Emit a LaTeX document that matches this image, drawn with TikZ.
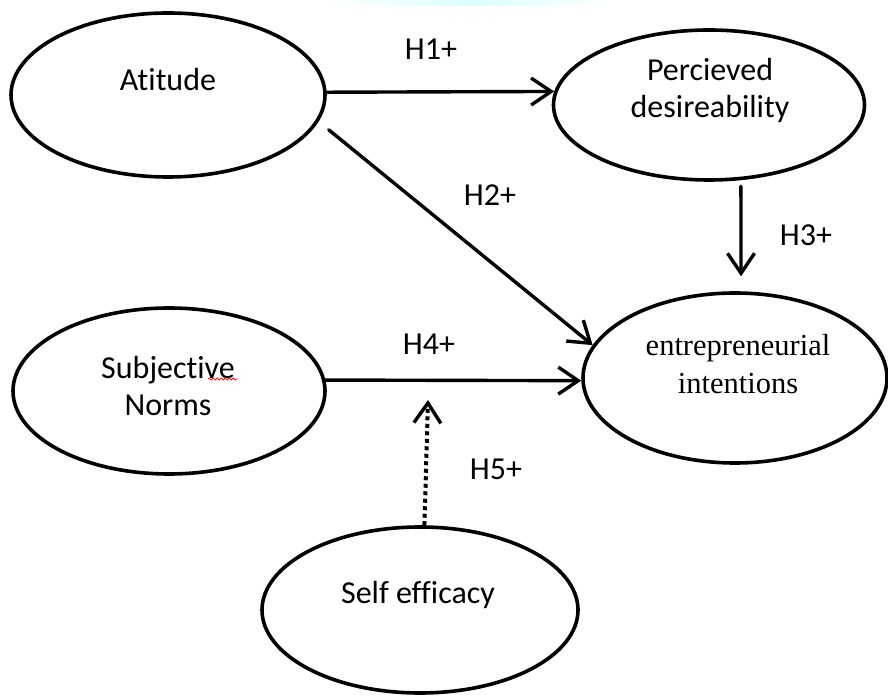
\documentclass[tikz,border=0pt]{standalone}
\usepackage{fontspec}
\setmainfont{Carlito}[Ligatures=NoCommon]
\newfontfamily\timesfam{Liberation Serif}
\usetikzlibrary{arrows.meta,shapes.geometric,decorations.pathmorphing}
\begin{document}
\begin{tikzpicture}[x=1pt,y=1pt,
  oval/.style={draw, ellipse, line width=3.6pt, inner sep=0pt},
  txt/.style={inner sep=0pt, align=center, font=\fontsize{32}{37}\selectfont},
  sertxt/.style={inner sep=0pt, align=center, font=\timesfam\fontsize{30.5}{38}\selectfont},
  lbl/.style={inner sep=0pt, font=\fontsize{32}{37}\selectfont},
  arr/.style={line width=3.4pt, line cap=round, -{Straight Barb[length=20pt,width=27pt]}},
  dotarr/.style={line width=4pt, dash pattern=on 4pt off 3.5pt, -{Straight Barb[length=20pt,width=27pt,line width=3.4pt]}},
]
\useasboundingbox (0,0) rectangle (888,696);
% faint band at the top
\fill[left color=white, right color=white, middle color=cyan!14] (327,690) rectangle (615,696);

% ellipses
\node[oval, minimum width=314, minimum height=164] (att) at (168,601) {};
\node[oval, minimum width=311, minimum height=150] (pd)  at (709,591) {};
\node[oval, minimum width=304, minimum height=170] (ei)  at (735,318) {};
\node[oval, minimum width=312, minimum height=166] (sn)  at (169,305) {};
\node[oval, minimum width=316, minimum height=166] (se)  at (420,86) {};

% texts
\node[txt] (tatt) at (168,616) {Atitude};
\node[txt] (tpd)  at (710,606) {Percieved\\desireability};
\node[sertxt] (tei) at (738,332) {entrepreneurial\\intentions};
\node[txt] (tsn)  at (168,310) {Subjective\\Norms};
\node[txt] (tse)  at (418,101) {Self efficacy};

% red spelling squiggle
\draw[red, line width=0.7pt, decorate, decoration={snake, amplitude=1.2pt, segment length=4pt}]
  (208,317) -- (238,317);

% connectors
\draw[arr] (att.1) -- (pd.175);
\draw[arr, shorten <=13pt] (att.-10) -- (ei.167.8);
\draw[arr, shorten <=6pt, shorten >=15pt] (pd.-67) -- (ei.86.6);
\draw[arr] (sn.4) -- (ei.181);
\coordinate (h5end) at (428,296);
\draw[dotarr] (se.87.2) -- (h5end);

% labels
\node[lbl] (l1) at (431,647) {H1+};
\node[lbl] (l2) at (490,501) {H2+};
\node[lbl] (l3) at (806,461) {H3+};
\node[lbl] (l4) at (429,352) {H4+};
\node[lbl] (l5) at (496,227) {H5+};
\end{tikzpicture}
\end{document}
